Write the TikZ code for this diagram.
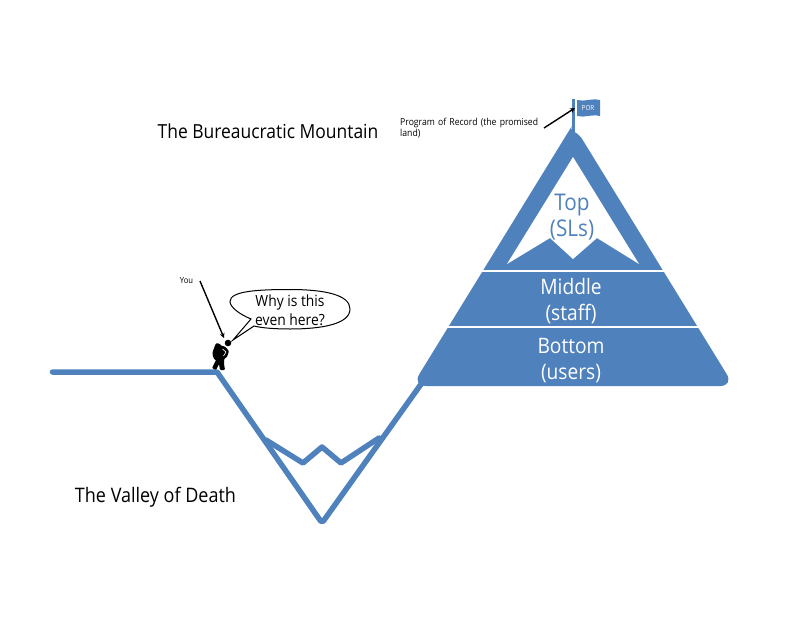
\documentclass[tikz,border=0pt]{standalone}
\usepackage{fontspec}
\setmainfont[FakeStretch=0.9]{Open Sans}
\usetikzlibrary{arrows.meta}
\definecolor{mtn}{HTML}{4F81BD}
\tikzset{
  x=1pt,y=-1pt,
  ridge/.style={draw=mtn,line width=5.5pt,line join=round,line cap=round},
  caption/.style={inner sep=0pt,align=center,font=\fontsize{19.4}{25}\selectfont},
  bigtxt/.style={inner sep=0pt,align=center,font=\fontsize{21.3}{26}\selectfont},
  small/.style={inner sep=0pt,align=left,font=\fontsize{9.6}{11}\selectfont},
  callout/.style={black,line width=1.4pt,-{Stealth[length=5pt,width=5pt]}}
}
\begin{document}
\begin{tikzpicture}
\useasboundingbox (0,0) rectangle (800,618);
% valley
\draw[ridge] (52.5,372) -- (217,372) [rounded corners=3pt] -- (322,523) -- (424,380);
\draw[ridge] (266,440) -- (303,463) -- (322,447) -- (341,463) -- (379,438);
% mountain
\fill[mtn] (564.7,137.7) .. controls (568.5,131.5) and (577.5,131.5) .. (581.3,137.7) [rounded corners=14pt] -- (734,386) -- (412,386) -- cycle;
\fill[white] (573,157) -- (639,264) -- (597,238) -- (573,259) -- (550,238) -- (507,264) -- cycle;
\draw[white,line width=1.8pt] (482,271) -- (664,271);
\draw[white,line width=1.8pt] (447,327) -- (699,327);
% flag
\draw[mtn,line width=3pt] (573.5,99) -- (573.5,136);
\fill[mtn] (577,100) .. controls (584,102) and (592,98) .. (600,100) -- (600,116) .. controls (592,114) and (584,118) .. (577,116) -- cycle;
\node[inner sep=0pt,text=white,font=\fontsize{7}{8}\selectfont] (por) at (588,108) {POR};
% hiker
\fill[black] (228,343) circle (3.3);
\fill[black,rounded corners=2.5pt] (216,342.5) -- (222,345) -- (222,358) -- (215,361) -- (212,354) -- cycle;
\fill[black,rounded corners=1pt] (220,345.5) -- (225,346.5) -- (229,351) -- (227,357) -- (224,359) -- (224,364) -- (225,370) -- (220,370) -- (219,364) -- (216,370) -- (212,368) -- (217,358) -- cycle;
\draw[white,line width=.6pt] (222.5,349) -- (226,352) -- (223.5,356);
\coordinate (hiker) at (224,338);
% bubble
\draw[black,line width=1pt,fill=white] (251,319) .. controls (239,314) and (230,307) .. (230,301.5) .. controls (230,291) and (258,289.5) .. (290,289.5) .. controls (325,289.5) and (350,295) .. (350,309) .. controls (350,324) and (322,329) .. (290,329) .. controls (275,329) and (262,328) .. (254,326) -- (233,340) -- cycle;
\node[inner sep=0pt,align=center,font=\fontsize{15.4}{19}\selectfont] (bubble) at (290,310) {Why is this\\even here?};
% labels
\node[small,font=\fontsize{8.5}{10}\selectfont] (you) at (186.5,281) {You};
\draw[callout] (200,281) -- (hiker);
\node[small,text width=147pt,anchor=north west] (record) at (400,117.5) {Program of Record (the promised land)};
\coordinate (recfrom) at (544,128);
\coordinate (pole) at (575,108);
\draw[callout] (recfrom) -- (pole);
\node[caption] (bm) at (268,131) {The Bureaucratic Mountain};
\node[caption,font=\fontsize{20}{25}\selectfont] (vd) at (155.5,497) {The Valley of Death};
\node[bigtxt,font=\fontsize{23}{26}\selectfont,text=mtn] (top) at (572,217) {Top\\(SLs)};
\node[bigtxt,text=white] (mid) at (571,301) {Middle\\(staff)};
\node[bigtxt,text=white] (bot) at (571,361) {Bottom\\(users)};
\end{tikzpicture}
\end{document}
